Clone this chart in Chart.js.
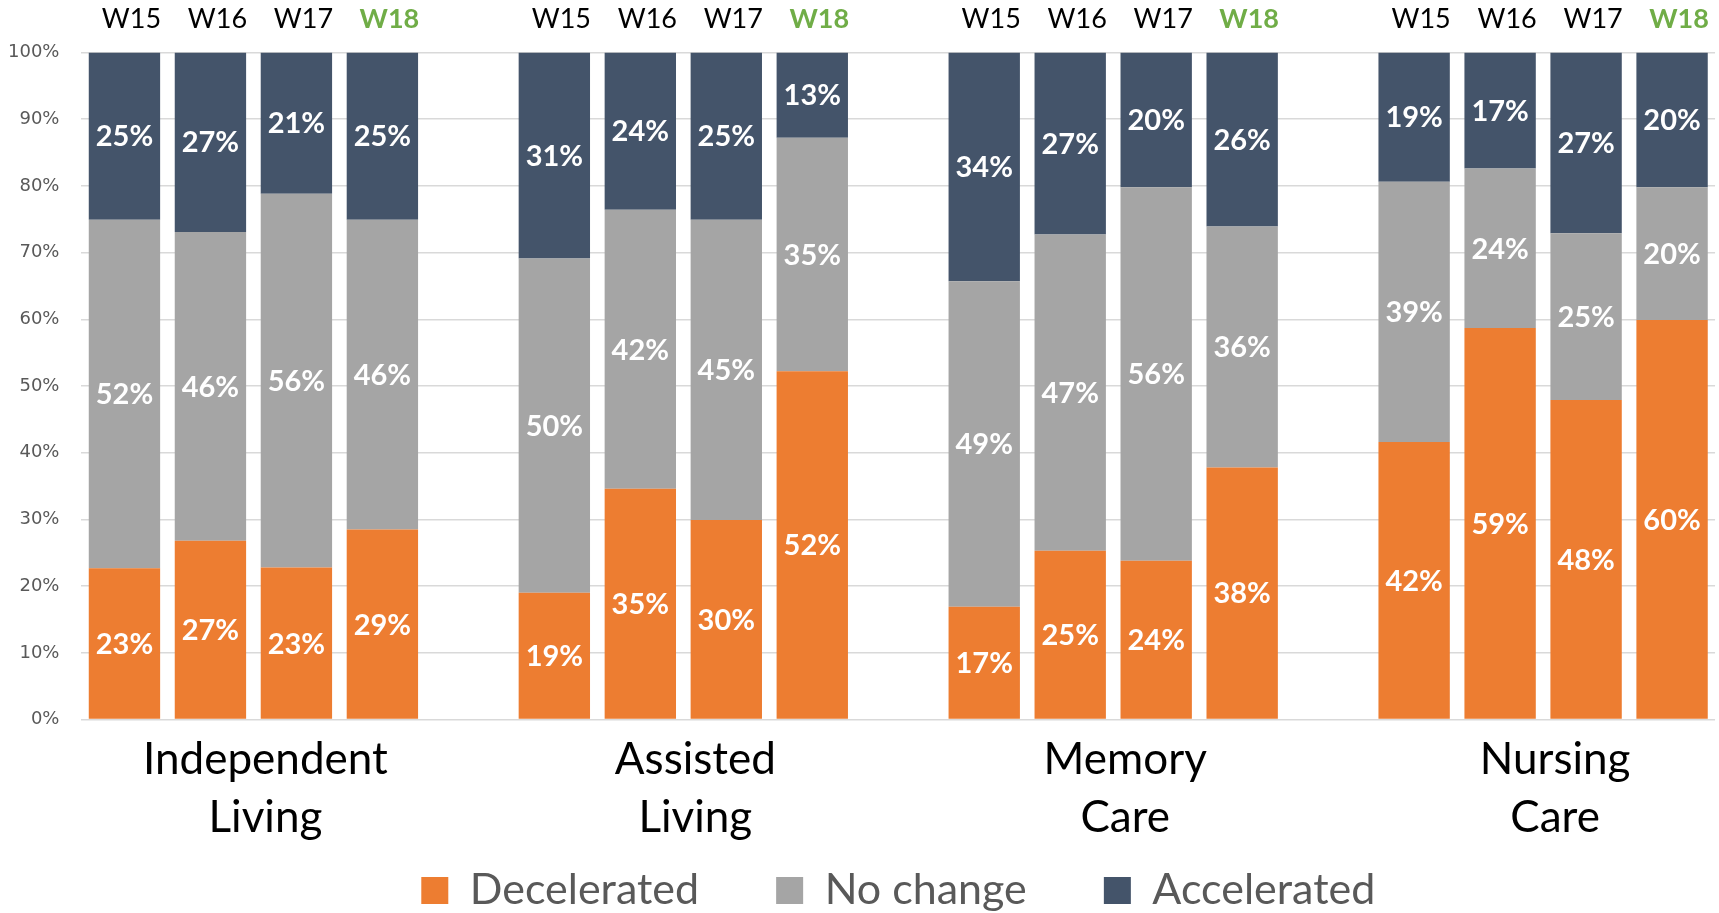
<!DOCTYPE html>
<html>
<head>
<meta charset="utf-8">
<title>Pace change by care type</title>
<script src="https://cdn.jsdelivr.net/npm/chart.js@4.4.1/dist/chart.umd.min.js"></script>
<style>
  html, body { margin: 0; padding: 0; background: #fff; }
  #wrap { width: 1719px; height: 913px; position: relative; }
</style>
</head>
<body>
<div id="wrap"><canvas id="chartBars"></canvas></div>
<script>
// weeks shown over every bar, care types under each group of four
var weekLabels = ["W15", "W16", "W17", "W18"];
var careGroups = [["Independent", "Living"], ["Assisted", "Living"], ["Memory", "Care"], ["Nursing", "Care"]];
var seriesNames = ["Decelerated", "No change", "Accelerated"];
var yTicks = [0, 10, 20, 30, 40, 50, 60, 70, 80, 90, 100];

// share of residents (%), one value per bar, null = gap between groups
var decelerated = [22.7, 26.8, 22.8, 28.5, null, 19.0, 34.6, 29.9, 52.2, null, 16.9, 25.3, 23.8, 37.8, null, 41.6, 58.7, 47.9, 59.9];
var noChange    = [52.2, 46.3, 56.0, 46.4, null, 50.1, 41.8, 45.0, 35.0, null, 48.8, 47.4, 56.0, 36.1, null, 39.0, 23.9, 25.0, 19.9];
var accelerated = [25.1, 26.9, 21.2, 25.1, null, 30.9, 23.6, 25.1, 12.8, null, 34.3, 27.3, 20.2, 26.1, null, 19.4, 17.4, 27.1, 20.2];

var seriesColours = ["#ED7D31", "#A5A5A5", "#44546A"];
var fontFamily = "Lato, 'Noto Sans', sans-serif";

// one slot per bar plus an empty slot between groups
var slotLabels = [];
var groupCenters = [];
for (var g = 0; g < careGroups.length; g++) {
  for (var w = 0; w < weekLabels.length; w++) {
    slotLabels.push(weekLabels[w]);
  }
  groupCenters.push(g * (weekLabels.length + 1) + (weekLabels.length - 1) / 2);
  if (g < careGroups.length - 1) slotLabels.push("");
}

/* white percentage in the middle of every segment */
var segmentLabels = {
  id: "segmentLabels",
  afterDatasetsDraw: function(chart) {
    var ctx = chart.ctx;
    ctx.save();
    ctx.fillStyle = "#ffffff";
    ctx.font = "bold 29px " + fontFamily;
    ctx.textAlign = "center";
    ctx.textBaseline = "middle";
    chart.data.datasets.forEach(function(ds, di) {
      var meta = chart.getDatasetMeta(di);
      meta.data.forEach(function(bar, i) {
        var v = ds.data[i];
        if (v === null || v === undefined) return;
        ctx.fillText(Math.round(v) + "%", bar.x, (bar.y + bar.base) / 2 + 1);
      });
    });
    ctx.restore();
  }
};

// wider gaps between legend entries without making the legend taller
function legendLabels(chart) {
  var items = Chart.defaults.plugins.legend.labels.generateLabels(chart);
  items.forEach(function(item, i) {
    if (i < items.length - 1) item.text = item.text + "      ";
  });
  return items;
}

function createChart() {
  var ctx = document.getElementById("chartBars").getContext("2d");
  var datasets = [decelerated, noChange, accelerated].map(function(values, i) {
    return {
      label: seriesNames[i],
      data: values,
      backgroundColor: seriesColours[i],
      borderWidth: 0,
      barPercentage: 0.83,
      categoryPercentage: 1.0
    };
  });

  new Chart(ctx, {
    type: "bar",
    data: { labels: slotLabels, datasets: datasets },
    options: {
      responsive: true,
      maintainAspectRatio: false,
      animation: false,
      layout: { padding: { top: -14, left: -14, right: 3, bottom: -9 } },
      scales: {
        x: {
          position: "top",
          stacked: true,
          grid: { display: false, drawTicks: false },
          border: { display: false },
          ticks: {
            padding: 17,
            labelOffset: 7,
            maxRotation: 0,
            autoSkip: false,
            color: function(c) { return c.index % 5 === 3 ? "#70AD47" : "#000000"; },
            font: function(c) {
              return { family: fontFamily, size: 27, weight: c.index % 5 === 3 ? "bold" : "normal" };
            }
          }
        },
        groups: {
          type: "linear",
          position: "bottom",
          offset: false,
          bounds: "data",
          min: -0.5,
          max: slotLabels.length - 0.5,
          grid: { display: false, drawTicks: false },
          border: { display: false },
          afterBuildTicks: function(scale) {
            scale.ticks = groupCenters.map(function(v) { return { value: v }; });
          },
          ticks: {
            padding: 12,
            labelOffset: 12,
            maxRotation: 0,
            autoSkip: false,
            color: "#000000",
            font: { family: fontFamily, size: 44, lineHeight: 1.3 },
            callback: function(value, index) { return careGroups[index]; }
          }
        },
        y: {
          stacked: true,
          min: 0,
          max: 100,
          afterBuildTicks: function(scale) {
            scale.ticks = yTicks.map(function(v) { return { value: v }; });
          },
          grid: { color: "#D9D9D9", lineWidth: 1.5, drawTicks: false },
          border: { display: false },
          ticks: {
            padding: 22,
            color: "#595959",
            font: { family: "'DejaVu Sans', sans-serif", size: 18 },
            callback: function(v) { return v + "%"; }
          }
        }
      },
      plugins: {
        legend: {
          position: "bottom",
          fullSize: false,
          labels: {
            boxWidth: 27,
            boxHeight: 27,
            padding: 11,
            color: "#595959",
            font: { family: fontFamily, size: 43 },
            generateLabels: legendLabels
          }
        },
        tooltip: { enabled: false }
      }
    },
    plugins: [segmentLabels]
  });
}

createChart();
</script>
</body>
</html>
